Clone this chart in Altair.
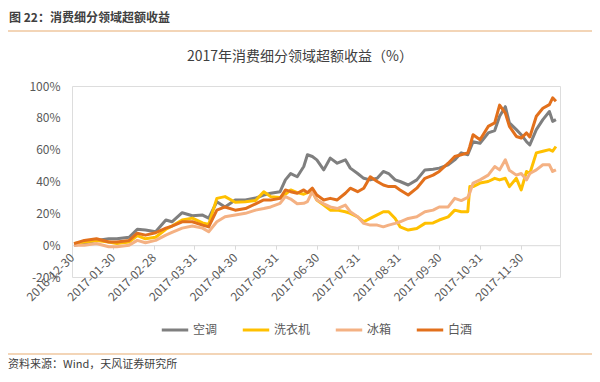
import altair as alt
import pandas as pd

# x position in "tick interval" units (0 = 2016-12-30, 1 = 2017-01-30, ...)
m_pos = [0.05, 0.3, 0.6, 0.9, 1.1, 1.4, 1.6, 1.8, 2.05, 2.3, 2.45, 2.7, 2.95, 3.2, 3.35,
         3.55, 3.75, 4.0, 4.25, 4.5, 4.7, 4.87, 5.1, 5.23, 5.36, 5.52, 5.68, 5.77, 5.89,
         6.0, 6.17, 6.33, 6.5, 6.7, 6.82, 7.0, 7.15, 7.31, 7.48, 7.63, 7.76, 7.92, 8.04,
         8.24, 8.45, 8.65, 8.85, 9.0, 9.22, 9.38, 9.54, 9.7, 9.75, 9.83, 10.0, 10.2, 10.36,
         10.48, 10.62, 10.72, 10.89, 11.01, 11.14, 11.22, 11.38, 11.54, 11.7, 11.78, 11.86]

kongtiao = [0, 1, 3, 4, 4, 5, 10, 9.5, 8.4, 15.8, 14.7, 20.4, 18.5, 18.9, 17,
            27.3, 24, 28.4, 28.4, 29.6, 31.5, 32.6, 33.6, 41, 45, 43, 49.4, 56.8, 55.7,
            53.6, 47.3, 54.7, 51.5, 53.6, 48.4, 45, 42, 41, 42, 46.3, 45, 41, 40,
            37.8, 41, 47.3, 47.7, 48.4, 50.5, 53.6, 58, 56.8, 60, 65, 64, 70.5, 72,
            81, 87, 76.8, 72.6, 69.4, 65, 63, 72.6, 78.9, 84, 77.8, 78.9]

xiyiji = [1, 2, 3, 2, 1, 2, 6, 4, 5, 10, 12, 15.8, 17, 14, 13,
          29.4, 30.5, 27, 27.3, 28, 33.6, 30.5, 30, 32, 34.7, 33, 32, 33, 33.6,
          28.4, 25.2, 22, 22, 21, 20, 17.8, 14.7, 16.8, 19, 21, 21, 16.8, 11.5,
          9.5, 10.5, 13.7, 14, 15.8, 17.8, 22, 21, 21, 36.8, 36.8, 39, 40, 42,
          41, 42, 36.8, 42, 34.7, 46.3, 45, 58, 59, 60, 59, 62]

bingxiang = [0, 0, 1, -1, -1, 0, 3, 1.5, 3, 6.3, 8, 10.7, 12, 10.7, 8.4,
             14.7, 17.8, 19, 20, 22, 23, 24, 26.3, 30.5, 29, 26, 26.3, 27.3, 33.6,
             28.4, 26, 24, 23, 25.2, 21, 17.8, 13.7, 12.6, 12.6, 11.5, 12.6, 13.7, 14.7,
             16.8, 17.8, 21, 22, 24, 24, 29.4, 28, 30, 33, 39, 41, 44, 49.4,
             47.3, 53.6, 47, 44, 45, 41, 45, 47.3, 50.5, 50.5, 46.3, 47.3]

baijiu = [1, 3, 4, 2, 2, 3, 7.5, 6.3, 7.8, 10.7, 12, 14.7, 14.7, 12.6, 11.5,
          22, 24, 22, 23, 26, 28.4, 28.4, 29.4, 34.7, 33.6, 32.6, 34.7, 33, 35.8,
          31.5, 28.4, 29.4, 28.4, 32.6, 35.8, 33.6, 35.8, 43, 40, 37.8, 36.8, 36.8, 34.7,
          31.5, 35.8, 42, 44, 46.3, 51.5, 55.7, 56.8, 58, 62, 69.4, 66.2, 74.6, 76.8,
          88, 83, 74.6, 68.3, 67.3, 70.5, 68, 81, 86, 88.3, 92.6, 90.4]

series_names = ["空调", "洗衣机", "冰箱", "白酒"]
series_colors = ["#7f7f7f", "#ffc000", "#f4b183", "#e2701c"]
tick_labels = ["2016-12-30", "2017-01-30", "2017-02-28", "2017-03-31", "2017-04-30",
               "2017-05-31", "2017-06-30", "2017-07-31", "2017-08-31", "2017-09-30",
               "2017-10-31", "2017-11-30"]

rows = []
for name, vals in zip(series_names, [kongtiao, xiyiji, bingxiang, baijiu]):
    for i, (m, v) in enumerate(zip(m_pos, vals)):
        rows.append({"m": m, "v": v, "series": name, "idx": i})
df = pd.DataFrame(rows)

FONT = "Noto Sans CJK SC"
W, H = 488, 191
PX = 31.8  # pixels for 20%

label_js = "[" + ",".join("'%s'" % t for t in tick_labels) + "]"

lines = alt.Chart(df).mark_line(strokeWidth=3, strokeJoin="round").encode(
    x=alt.X("m:Q", scale=alt.Scale(domain=[0, 11.96], nice=False, zero=False),
            axis=alt.Axis(values=list(range(12)), labelExpr=label_js + "[datum.value]",
                          labelAngle=-45, labelAlign="right", labelBaseline="middle",
                          labelPadding=6, offset=-PX, domainColor="#d9d9d9",
                          tickColor="#d9d9d9", tickSize=4, grid=False, title=None,
                          labelFontSize=12, labelColor="#595959", labelFont=FONT,
                          labelOverlap=False)),
    y=alt.Y("v:Q", scale=alt.Scale(domain=[-20, 100], nice=False),
            axis=alt.Axis(values=[-20, 0, 20, 40, 60, 80, 100], labelExpr="datum.value + '%'",
                          domain=False, ticks=False, grid=False, title=None,
                          labelPadding=12, labelFontSize=12, labelColor="#595959",
                          labelFont=FONT)),
    color=alt.Color("series:N", scale=alt.Scale(domain=series_names, range=series_colors),
                    sort=series_names,
                    legend=alt.Legend(orient="none", legendX=88, legendY=229,
                                      direction="horizontal", title=None,
                                      symbolType="stroke", symbolSize=700,
                                      symbolStrokeWidth=3, labelFontSize=12,
                                      labelColor="#595959", labelFont=FONT,
                                      columnPadding=18, labelOffset=3)),
    order=alt.Order("idx:Q"),
)

one = pd.DataFrame({"a": [1]})

header = alt.Chart(one).mark_text(align="left", baseline="middle", fontSize=12,
                                  fontWeight="bold", color="#404040", font=FONT).encode(
    x=alt.value(-63), y=alt.value(-68), text=alt.value("图 22：消费细分领域超额收益"))
header_rule = alt.Chart(one).mark_rule(color="#efc79f", strokeWidth=1.5).encode(
    x=alt.value(-64), x2=alt.value(520), y=alt.value(-55))
title = alt.Chart(one).mark_text(align="center", baseline="middle", fontSize=14,
                                 color="#404040", font=FONT).encode(
    x=alt.value(228), y=alt.value(-29), text=alt.value("2017年消费细分领域超额收益（%）"))
footer_rule = alt.Chart(one).mark_rule(color="#efc79f", strokeWidth=1.5).encode(
    x=alt.value(-64), x2=alt.value(520), y=alt.value(268))
footer = alt.Chart(one).mark_text(align="left", baseline="middle", fontSize=11,
                                  color="#404040", font=FONT).encode(
    x=alt.value(-64), y=alt.value(279), text=alt.value("资料来源：Wind，天风证券研究所"))

chart = alt.layer(lines, header, header_rule, title, footer_rule, footer).properties(
    width=W, height=H,
    autosize=alt.AutoSizeParams(type="none"),
    padding={"left": 64, "top": 78, "right": 32, "bottom": 96},
).configure_view(stroke=None).configure(background="white")

chart.save("out.html", embed_options={"renderer": "svg", "actions": False})
